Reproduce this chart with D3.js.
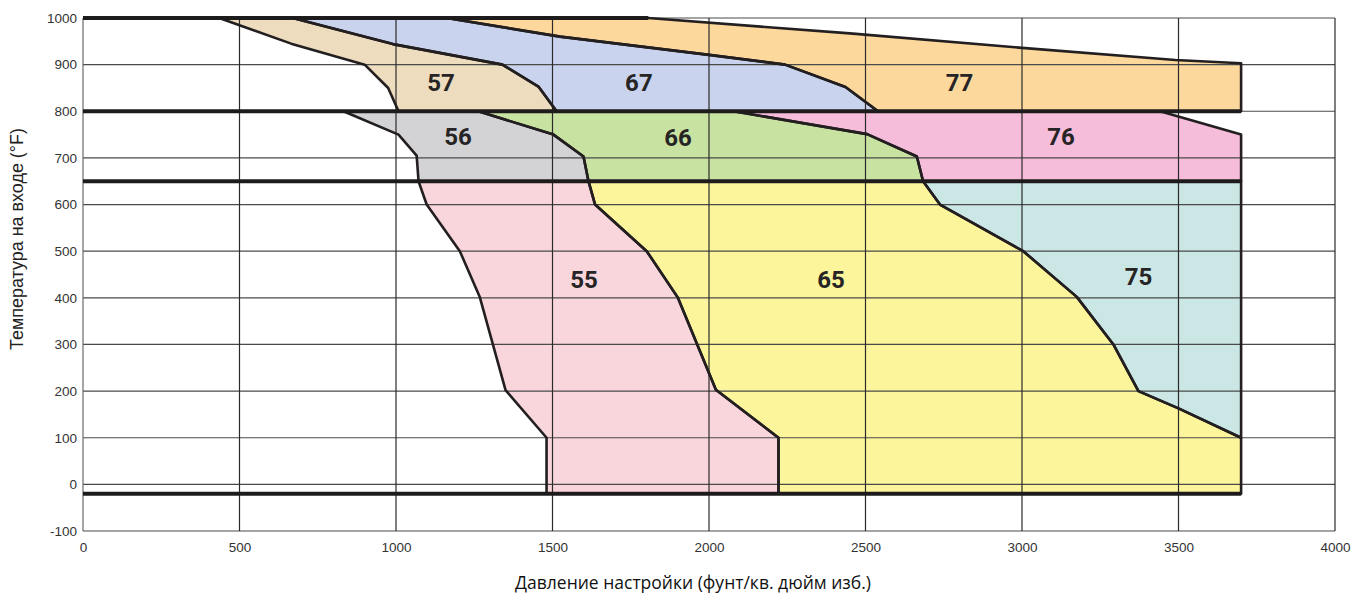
<!DOCTYPE html>
<html>
<head>
<meta charset="utf-8">
<script src="https://cdn.jsdelivr.net/npm/d3@7/dist/d3.min.js"></script>
<style>
  html, body { margin: 0; padding: 0; background: #fff; }
  svg { display: block; }
</style>
</head>
<body>
<svg id="chart" width="1356" height="594"></svg>
<script>
// Axis ticks
const psiTicks = [0, 500, 1000, 1500, 2000, 2500, 3000, 3500, 4000];
const tempTicks = [-100, 0, 100, 200, 300, 400, 500, 600, 700, 800, 900, 1000];

// Band limits (°F) separating the three rows of spring ranges
const bandTemps = [1000, 800, 650, -20];
const bandEndPsi = [1806, 3700, 3700, 3700];
const maxPsi = 3700;

// Boundary curves, [psi, °F]
const edge57Left = [[435, 1000], [665, 945], [900, 900], [975, 850], [1008, 800]];
const edge57to67 = [[670, 1000], [990, 944], [1340, 900], [1455, 853], [1513, 800]];
const edge67to77 = [[1162, 1000], [1524, 960], [2000, 921], [2243, 900], [2436, 852], [2540, 800]];
const edge77Top = [[1806, 1000], [2450, 967], [3000, 936], [3490, 910], [3700, 903]];

const edge56Left = [[832, 800], [1008, 750], [1066, 705], [1072, 650]];
const edge56to66 = [[1263, 800], [1503, 750], [1599, 703], [1615, 650]];
const edge66to76 = [[2078, 800], [2505, 751], [2664, 703], [2684, 650]];
const edge76Top = [[3441, 800], [3700, 750]];

const edge55Left = [[1072, 650], [1098, 600], [1204, 500], [1268, 401], [1350, 202], [1481, 100], [1481, -20]];
const edge55to65 = [[1615, 650], [1636, 600], [1801, 500], [1900, 401], [2022, 203], [2222, 100], [2222, -20]];
const edge65to75 = [[2684, 650], [2738, 600], [3004, 500], [3175, 402], [3292, 300], [3372, 200], [3500, 163], [3700, 100]];

// Range names and label anchors [psi, °F]
const rangeNames = ["57", "67", "77", "56", "66", "76", "55", "65", "75"];
const rangeLabelAt = [[1144, 862], [1776, 862], [2800, 861], [1198, 747], [1901, 744], [3125, 747], [1601, 440], [2390, 440], [3372, 447]];
const rangeColors = ["#eddcbd", "#c9d3ee", "#fdd89c", "#d3d3d6", "#c8e2a2", "#f6bddb", "#f9d6dc", "#fdf59c", "#cbe7e5"];

const xTitle = "Давление настройки (фунт/кв. дюйм изб.)";
const yTitle = "Температура на входе (°F)";

// ---------------------------------------------------------------
const rev = a => a.slice().reverse();
const rangeShapes = [
  [...edge57Left, ...rev(edge57to67)],
  [...edge57to67, ...rev(edge67to77)],
  [...edge67to77, [maxPsi, 800], ...rev(edge77Top)],
  [...edge56Left, ...rev(edge56to66)],
  [...edge56to66, ...rev(edge66to76)],
  [...edge66to76, [maxPsi, 650], ...rev(edge76Top)],
  [...edge55Left, ...rev(edge55to65)],
  [...edge55to65, [maxPsi, -20], ...rev(edge65to75)],
  [...edge65to75, [maxPsi, 650]]
];

const svg = d3.select("#chart");
const x = d3.scaleLinear().domain([0, 4000]).range([83, 1335]);
const y = d3.scaleLinear().domain([-100, 1000]).range([531, 18]);
const line = d3.line().x(d => x(d[0])).y(d => y(d[1]));

// Filled ranges
svg.append("g").selectAll("path")
  .data(rangeShapes)
  .join("path")
  .attr("d", d => line(d) + "Z")
  .attr("fill", (d, i) => rangeColors[i])
  .attr("stroke", "none");

// Grid
const grid = svg.append("g").attr("fill", "none");
grid.selectAll("line.h")
  .data(tempTicks)
  .join("line")
  .attr("class", "h")
  .attr("x1", x(0)).attr("x2", x(4000))
  .attr("y1", d => y(d)).attr("y2", d => y(d))
  .attr("stroke", "#4a4a4a").attr("stroke-width", 1.2);
grid.selectAll("line.v")
  .data(psiTicks)
  .join("line")
  .attr("class", "v")
  .attr("x1", d => x(d)).attr("x2", d => x(d))
  .attr("y1", y(1000)).attr("y2", y(-100))
  .attr("stroke", d => d === 0 ? "#6a6a6a" : "#2a2a2a")
  .attr("stroke-width", 1.2);

// Range outlines
svg.append("g").selectAll("path")
  .data(rangeShapes)
  .join("path")
  .attr("d", d => line(d) + "Z")
  .attr("fill", "none")
  .attr("stroke", "#231f20")
  .attr("stroke-width", 2.6)
  .attr("stroke-linejoin", "round");

// Heavy band lines
svg.append("g").selectAll("line")
  .data(bandTemps)
  .join("line")
  .attr("x1", x(0))
  .attr("x2", (d, i) => x(bandEndPsi[i]))
  .attr("y1", d => y(d)).attr("y2", d => y(d))
  .attr("stroke", "#1e1b1c")
  .attr("stroke-width", 4);

// Range labels
svg.append("g").selectAll("text")
  .data(rangeNames)
  .join("text")
  .attr("x", (d, i) => x(rangeLabelAt[i][0]))
  .attr("y", (d, i) => y(rangeLabelAt[i][1]))
  .attr("dy", "0.36em")
  .attr("text-anchor", "middle")
  .attr("font-family", "Roboto, 'Liberation Sans', sans-serif")
  .attr("font-weight", 700)
  .attr("font-size", 24)
  .attr("fill", "#262424")
  .text(d => d);

// Axes
const plain = d => String(d);
const yAxis = d3.axisLeft(y).tickValues(tempTicks).tickFormat(plain).tickSize(0).tickPadding(6);
const gy = svg.append("g").attr("transform", `translate(${x(0)},0)`).call(yAxis);
gy.select(".domain").remove();
gy.selectAll("text")
  .attr("font-family", "'Liberation Sans', Arial, sans-serif")
  .attr("font-size", 13.5)
  .attr("fill", "#333");

const xAxis = d3.axisBottom(x).tickValues(psiTicks).tickFormat(plain).tickSize(0).tickPadding(11);
const gx = svg.append("g").attr("transform", `translate(0,${y(-100)})`).call(xAxis);
gx.select(".domain").remove();
gx.selectAll("text")
  .attr("font-family", "'Liberation Sans', Arial, sans-serif")
  .attr("font-size", 13.5)
  .attr("fill", "#333");

// Axis titles, sized to their measured span
function fitTo(sel, width) {
  const w = sel.node().getComputedTextLength();
  const fs = parseFloat(sel.attr("font-size"));
  sel.attr("font-size", (fs * width / w).toFixed(2));
}
const xt = svg.append("text")
  .attr("x", 693).attr("y", 589)
  .attr("text-anchor", "middle")
  .attr("font-family", "'Open Sans', 'Noto Sans', sans-serif")
  .attr("font-size", 17)
  .attr("fill", "#111")
  .text(xTitle);
fitTo(xt, 356);

const yt = svg.append("text")
  .attr("transform", "translate(23,239) rotate(-90)")
  .attr("text-anchor", "middle")
  .attr("font-family", "'Liberation Sans', Arial, sans-serif")
  .attr("font-size", 17)
  .attr("fill", "#222")
  .text(yTitle);
fitTo(yt, 222);
</script>
</body>
</html>
